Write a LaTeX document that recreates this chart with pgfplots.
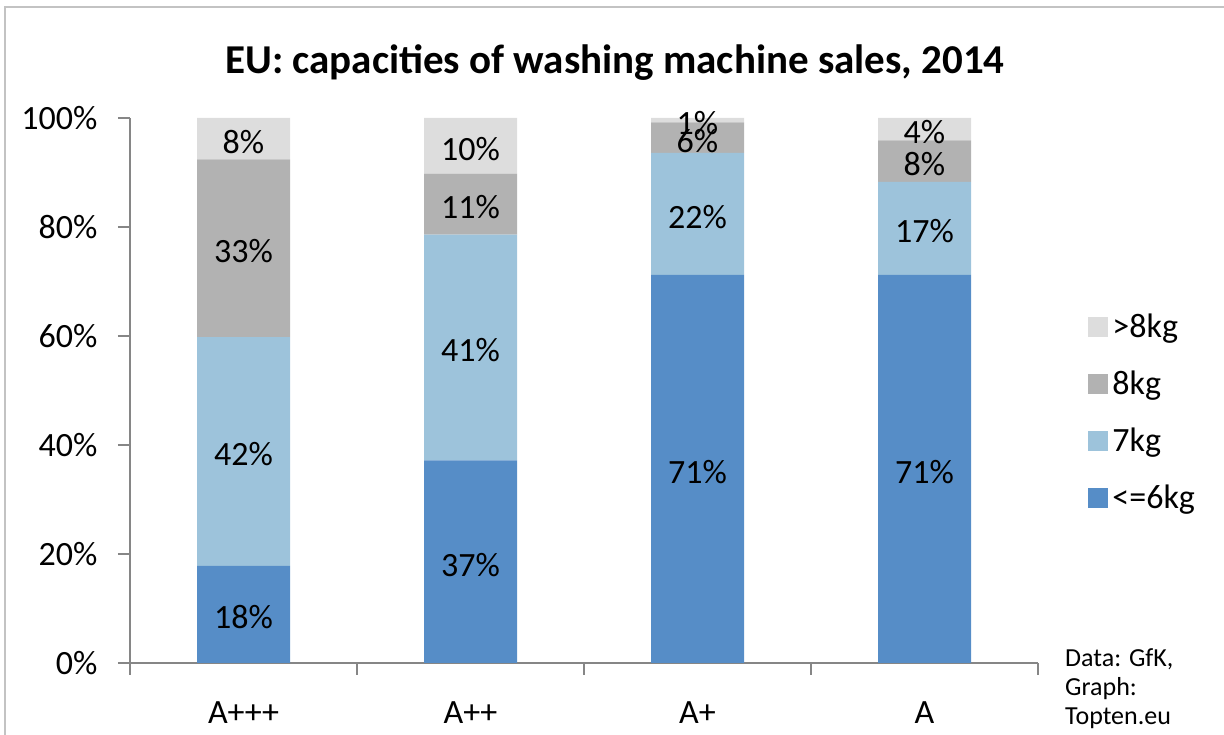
\documentclass[border=0pt]{standalone}
\usepackage{pgfplots}
\pgfplotsset{compat=1.18}
\usepackage{pgfplotstable}
\usepackage{fontspec}
\setmainfont{Carlito}

\definecolor{cSix}{RGB}{86,141,199}
\definecolor{cSeven}{RGB}{157,195,219}
\definecolor{cEight}{RGB}{178,178,178}
\definecolor{cMore}{RGB}{221,221,221}
\definecolor{axgray}{RGB}{134,134,134}
\definecolor{framegray}{RGB}{195,195,195}

% shares in % per energy class (x = 0..3 for A+++, A++, A+, A)
\pgfplotstableread{
x  six  seven eight more
0  17.8 42.0  32.6  7.6
1  37.2 41.4  11.2  10.2
2  71.2 22.4  5.6   0.8
3  71.2 17.1  7.6   4.1
}\sales

\newcommand{\lbl}{\fontsize{34}{40}\selectfont}

\begin{document}
\begin{tikzpicture}
\useasboundingbox (0pt,0pt) rectangle (1224pt,735pt);
\draw[line width=2pt, framegray] (5pt,-2pt) -- (5pt,728pt) -- (1226pt,728pt);

\node[font=\bfseries\fontsize{41}{48}\selectfont] at (615pt,672pt)
  {EU: capacities of washing machine sales, 2014};

\begin{axis}[
  at={(130pt,72pt)}, anchor=south west,
  scale only axis,
  width=908pt, height=545pt,
  ybar stacked,
  bar width=93pt,
  xmin=-0.5, xmax=3.5,
  ymin=0, ymax=100,
  axis lines*=left,
  axis line style={axgray, line width=1.2pt},
  xtick={0,1,2,3},
  xticklabels={A+++,A++,A+,A},
  major x tick style={draw=none},
  minor xtick={-0.5,0.5,1.5,2.5,3.5},
  minor x tick style={axgray, line width=1.2pt},
  ytick={0,20,...,100},
  yticklabel={\pgfmathprintnumber{\tick}\%},
  y tick style={axgray, line width=1.2pt},
  tick align=outside,
  major tick length=12pt, minor tick length=12pt,
  tick label style={font=\lbl, black},
  yticklabel style={xshift=-17pt},
  xticklabel style={yshift=-23pt},
  /pgf/number format/assume math mode=true,
  visualization depends on={rawy \as \segval},
  nodes near coords={\pgfmathprintnumber[fixed,precision=0]{\segval}\%},
  every node near coord/.append style={anchor=center, font=\lbl, black, yshift=-3pt},
  reverse legend,
  legend cell align=left,
  legend style={at={(axis description cs:1.052,0.648)}, anchor=north west,
    draw=none, fill=none, font=\lbl, row sep=28pt,
    nodes={inner xsep=4pt}},
  legend image code/.code={\fill[#1] (0pt,-10pt) rectangle (20pt,10pt);},
]
\addplot[fill=cSix, draw=none] table[x=x, y=six] {\sales};
\addplot[fill=cSeven, draw=none] table[x=x, y=seven] {\sales};
\addplot[fill=cEight, draw=none] table[x=x, y=eight] {\sales};
\addplot[fill=cMore, draw=none] table[x=x, y=more] {\sales};
\legend{<=6kg,7kg,8kg,>8kg}
\end{axis}

\node[anchor=north west, align=left, inner sep=0pt,
  font=\fontsize{26}{29}\selectfont] at (1065pt,87pt)
  {Data: GfK,\\Graph:\\Topten.eu};
\end{tikzpicture}
\end{document}
